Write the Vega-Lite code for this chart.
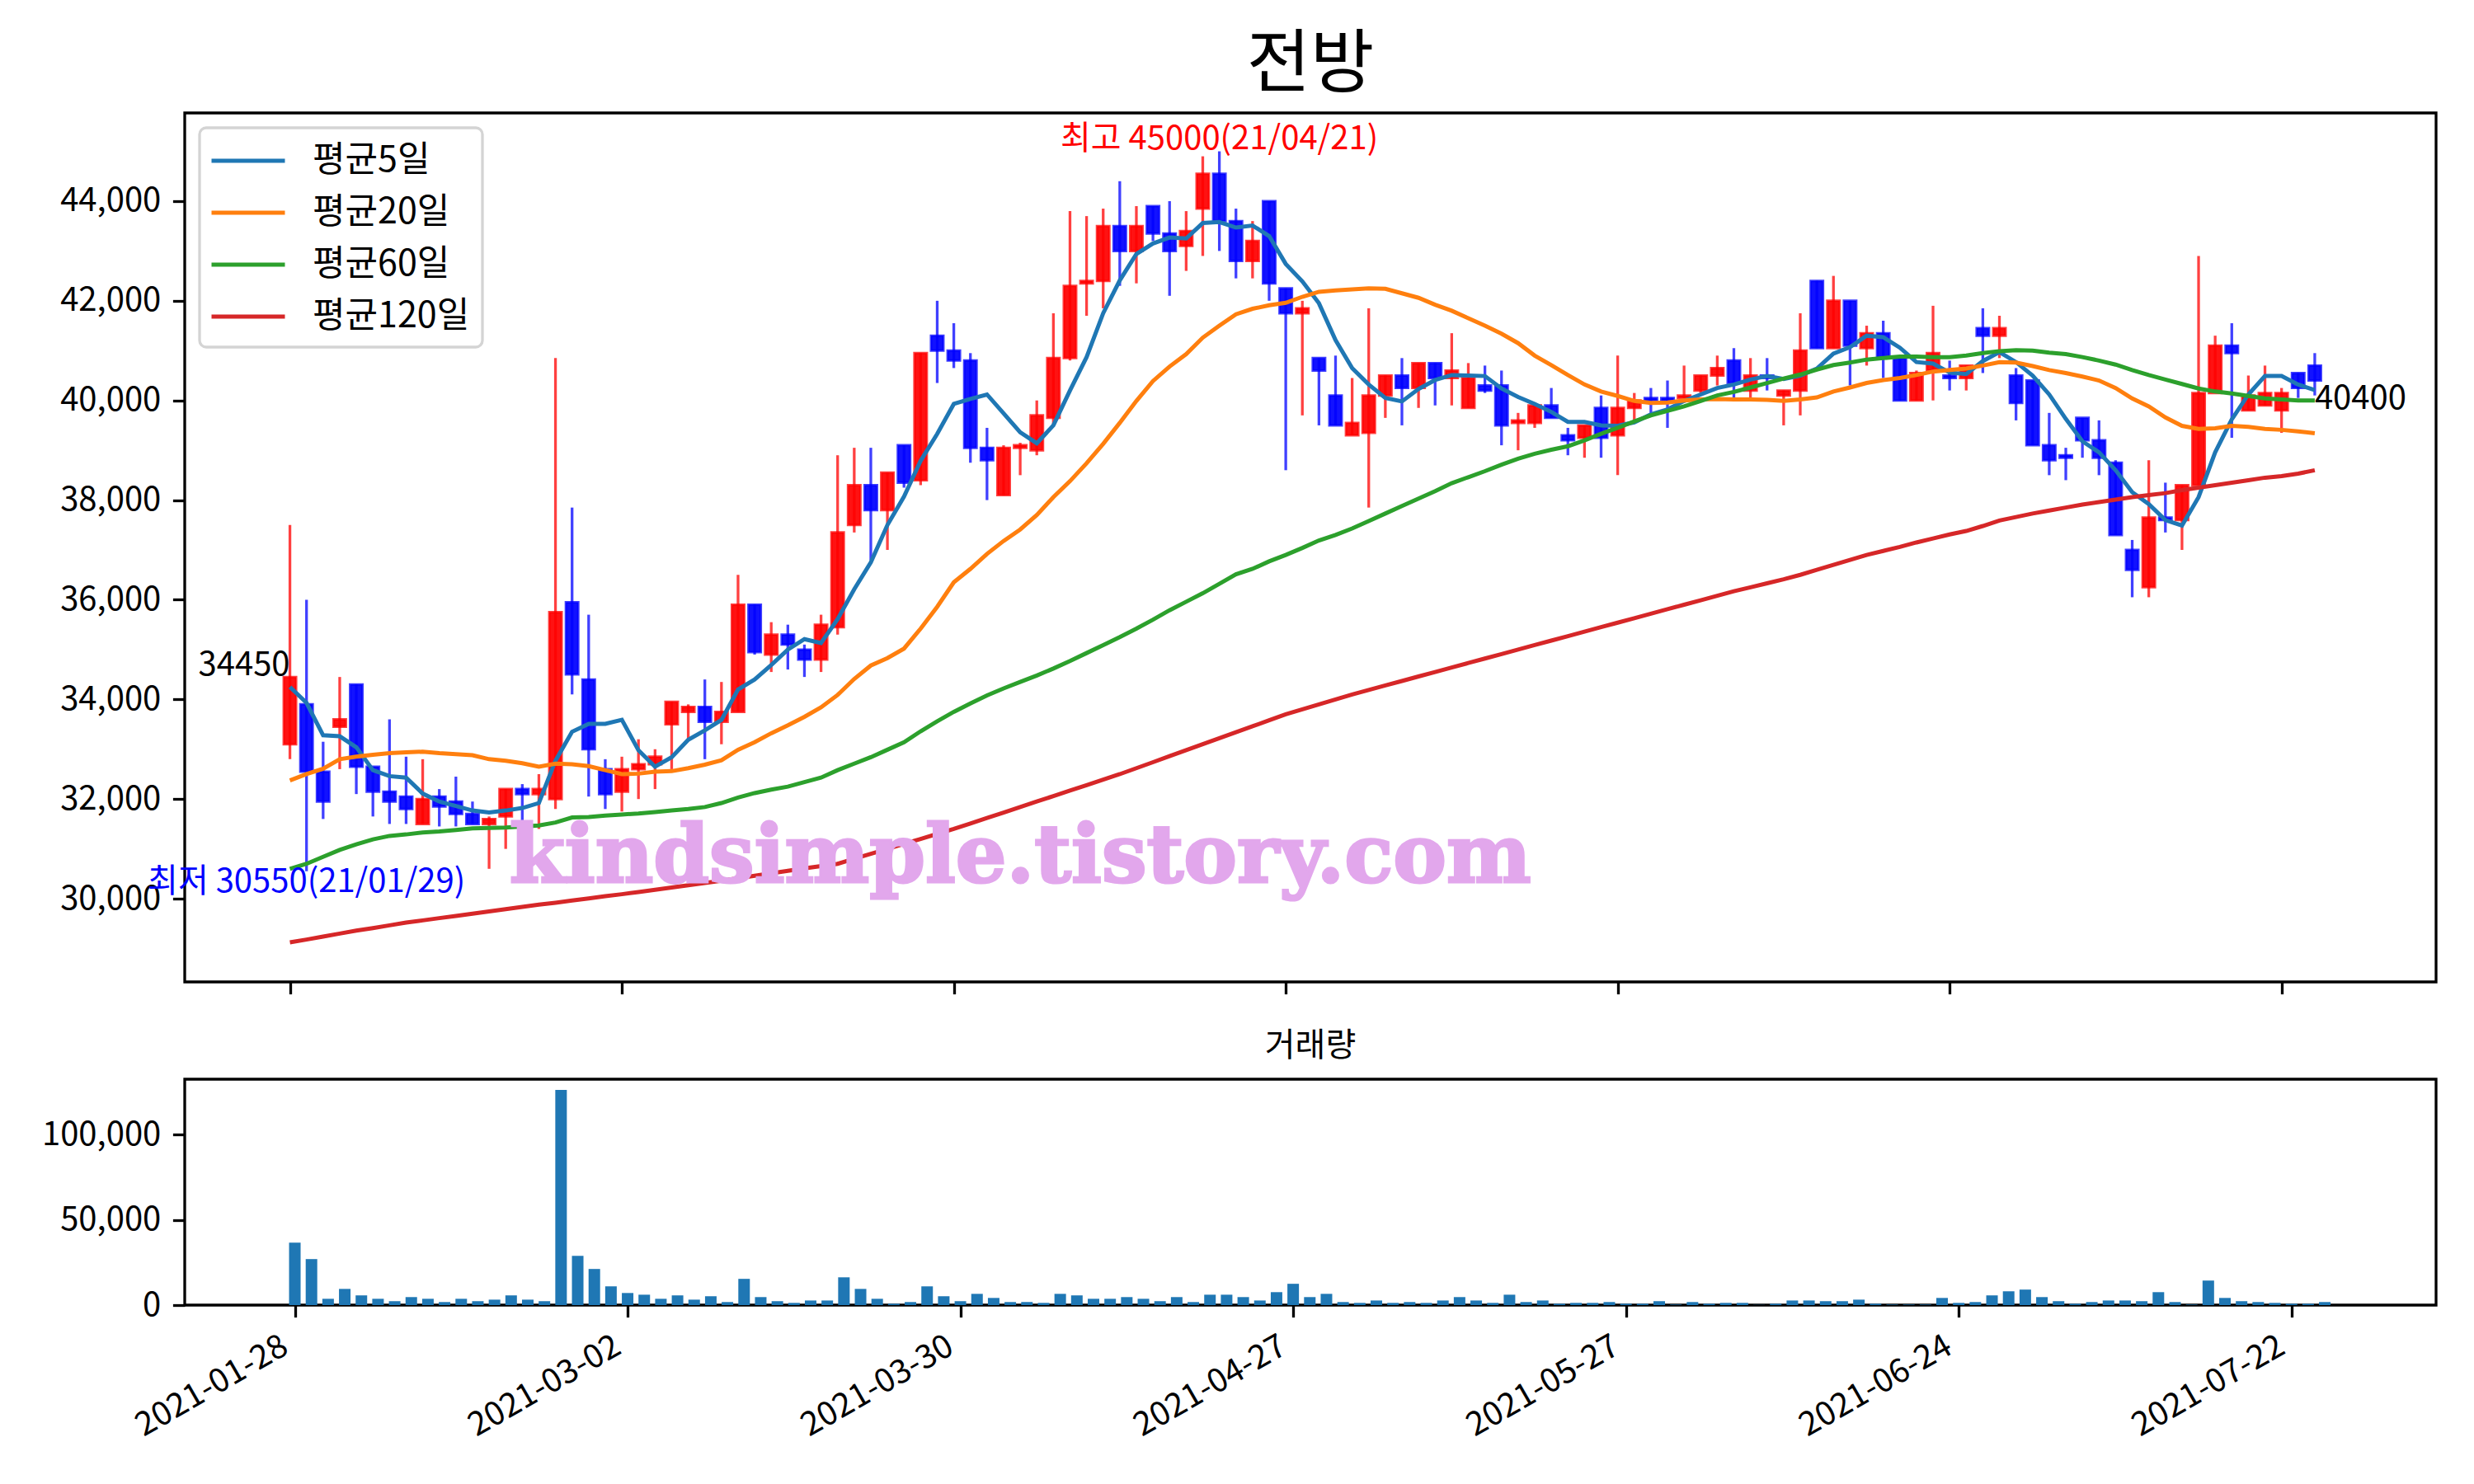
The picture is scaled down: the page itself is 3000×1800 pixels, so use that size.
{
  "$schema": "https://vega.github.io/schema/vega-lite/v6.json",
  "background": "white",
  "padding": {"left": 48, "top": 36, "right": 40, "bottom": 40},
  "config": {
    "font": "Noto Sans CJK KR",
    "view": {"stroke": "black", "strokeWidth": 3.3},
    "axis": {"labelFont": "Noto Sans CJK KR", "labelFontSize": 40, "labelColor": "black", "tickColor": "black", "tickWidth": 3.3, "tickSize": 14.6, "labelPadding": 14.6, "domain": false, "grid": false, "labelLimit": 0},
    "legend": {"strokeWidth": 3.3},
    "text": {"font": "Noto Sans CJK KR"}
  },
  "datasets": {
    "d": [
      {"i":0,"o":33100,"h":37500,"l":32800,"c":34450,"vol":36700,"평균5일":34250,"평균20일":32375,"평균60일":30600,"평균120일":29125},
      {"i":1,"o":33900,"h":36000,"l":30550,"c":32550,"vol":27000,"평균5일":33930,"평균20일":32500,"평균60일":30700,"평균120일":29180},
      {"i":2,"o":32550,"h":33150,"l":31600,"c":31950,"vol":3700,"평균5일":33280,"평균20일":32610,"평균60일":30840,"평균120일":29240},
      {"i":3,"o":33450,"h":34450,"l":32600,"c":33600,"vol":9500,"평균5일":33260,"평균20일":32800,"평균60일":30980,"평균120일":29300},
      {"i":4,"o":34300,"h":34300,"l":32100,"c":32650,"vol":5700,"평균5일":33040,"평균20일":32850,"평균60일":31090,"평균120일":29360},
      {"i":5,"o":32650,"h":32650,"l":31650,"c":32150,"vol":3700,"평균5일":32580,"평균20일":32890,"평균60일":31190,"평균120일":29410},
      {"i":6,"o":32150,"h":33600,"l":31500,"c":31950,"vol":2300,"평균5일":32460,"평균20일":32920,"평균60일":31260,"평균120일":29465},
      {"i":7,"o":32050,"h":32850,"l":31500,"c":31800,"vol":4700,"평균5일":32430,"평균20일":32940,"평균60일":31290,"평균120일":29520},
      {"i":8,"o":31500,"h":32800,"l":31500,"c":32000,"vol":3700,"평균5일":32110,"평균20일":32950,"평균60일":31330,"평균120일":29565},
      {"i":9,"o":32050,"h":32200,"l":31450,"c":31850,"vol":1800,"평균5일":31950,"평균20일":32920,"평균60일":31350,"평균120일":29610},
      {"i":10,"o":31950,"h":32450,"l":31450,"c":31700,"vol":3700,"평균5일":31860,"평균20일":32900,"평균60일":31380,"평균120일":29655},
      {"i":11,"o":31700,"h":31950,"l":31500,"c":31500,"vol":2300,"평균5일":31770,"평균20일":32880,"평균60일":31410,"평균120일":29700},
      {"i":12,"o":31500,"h":31650,"l":30600,"c":31600,"vol":3200,"평균5일":31730,"평균20일":32800,"평균60일":31420,"평균120일":29745},
      {"i":13,"o":31650,"h":32200,"l":31000,"c":32200,"vol":5700,"평균5일":31770,"평균20일":32770,"평균60일":31430,"평균120일":29790},
      {"i":14,"o":32200,"h":32300,"l":31500,"c":32100,"vol":3200,"평균5일":31820,"평균20일":32720,"평균60일":31450,"평균120일":29835},
      {"i":15,"o":32100,"h":32500,"l":31400,"c":32200,"vol":2300,"평균5일":31920,"평균20일":32650,"평균60일":31470,"평균120일":29880},
      {"i":16,"o":32000,"h":40850,"l":31800,"c":35750,"vol":126250,"평균5일":32770,"평균20일":32710,"평균60일":31530,"평균120일":29920},
      {"i":17,"o":35950,"h":37850,"l":34100,"c":34500,"vol":28900,"평균5일":33350,"평균20일":32700,"평균60일":31630,"평균120일":29965},
      {"i":18,"o":34400,"h":35700,"l":32050,"c":33000,"vol":21200,"평균5일":33510,"평균20일":32660,"평균60일":31640,"평균120일":30005},
      {"i":19,"o":32600,"h":32800,"l":31800,"c":32100,"vol":11000,"평균5일":33510,"평균20일":32580,"평균60일":31670,"평균120일":30050},
      {"i":20,"o":32150,"h":32850,"l":31750,"c":32600,"vol":7100,"평균5일":33590,"평균20일":32500,"평균60일":31690,"평균120일":30090},
      {"i":21,"o":32600,"h":33200,"l":32000,"c":32700,"vol":6100,"평균5일":32980,"평균20일":32510,"평균60일":31710,"평균120일":30135},
      {"i":22,"o":32700,"h":33000,"l":32200,"c":32850,"vol":3700,"평균5일":32650,"평균20일":32550,"평균60일":31740,"평균120일":30180},
      {"i":23,"o":33500,"h":33950,"l":32600,"c":33950,"vol":5700,"평균5일":32840,"평균20일":32560,"평균60일":31770,"평균120일":30225},
      {"i":24,"o":33750,"h":33900,"l":33200,"c":33850,"vol":3200,"평균5일":33190,"평균20일":32620,"평균60일":31800,"평균120일":30270},
      {"i":25,"o":33850,"h":34400,"l":32800,"c":33550,"vol":5200,"평균5일":33380,"평균20일":32690,"평균60일":31840,"평균120일":30315},
      {"i":26,"o":33550,"h":34350,"l":33100,"c":33750,"vol":1800,"평균5일":33590,"평균20일":32780,"평균60일":31920,"평균120일":30360},
      {"i":27,"o":33750,"h":36500,"l":33750,"c":35900,"vol":15400,"평균5일":34200,"평균20일":32990,"평균60일":32030,"평균120일":30410},
      {"i":28,"o":35900,"h":35900,"l":34900,"c":34950,"vol":4700,"평균5일":34400,"평균20일":33140,"평균60일":32120,"평균120일":30460},
      {"i":29,"o":34900,"h":35550,"l":34550,"c":35300,"vol":2300,"평균5일":34690,"평균20일":33320,"평균60일":32190,"평균120일":30510},
      {"i":30,"o":35300,"h":35500,"l":34600,"c":35100,"vol":1300,"평균5일":35000,"평균20일":33480,"평균60일":32250,"평균120일":30560},
      {"i":31,"o":35000,"h":35100,"l":34450,"c":34800,"vol":2700,"평균5일":35210,"평균20일":33650,"평균60일":32340,"평균120일":30610},
      {"i":32,"o":34800,"h":35700,"l":34550,"c":35500,"vol":2700,"평균5일":35130,"평균20일":33840,"평균60일":32430,"평균120일":30655},
      {"i":33,"o":35450,"h":38900,"l":35300,"c":37350,"vol":16300,"평균5일":35610,"평균20일":34090,"평균60일":32580,"평균120일":30700},
      {"i":34,"o":37500,"h":39050,"l":37350,"c":38300,"vol":9500,"평균5일":36210,"평균20일":34410,"평균60일":32710,"평균120일":30800},
      {"i":35,"o":38300,"h":39050,"l":36800,"c":37800,"vol":3700,"평균5일":36750,"평균20일":34680,"평균60일":32840,"평균120일":30900},
      {"i":36,"o":37800,"h":38550,"l":37000,"c":38550,"vol":800,"평균5일":37500,"평균20일":34830,"평균60일":32990,"평균120일":31000},
      {"i":37,"o":39100,"h":39100,"l":38250,"c":38350,"vol":1800,"평균5일":38070,"평균20일":35020,"평균60일":33140,"평균120일":31100},
      {"i":38,"o":38400,"h":40950,"l":38300,"c":40950,"vol":11000,"평균5일":38790,"평균20일":35420,"평균60일":33360,"평균120일":31200},
      {"i":39,"o":41300,"h":42000,"l":40350,"c":41000,"vol":5200,"평균5일":39330,"평균20일":35860,"평균60일":33560,"평균120일":31300},
      {"i":40,"o":41000,"h":41550,"l":40650,"c":40800,"vol":2300,"평균5일":39930,"평균20일":36350,"평균60일":33750,"평균120일":31400},
      {"i":41,"o":40800,"h":40950,"l":38750,"c":39050,"vol":6600,"평균5일":40030,"평균20일":36620,"평균60일":33920,"평균120일":31510},
      {"i":42,"o":39050,"h":39450,"l":38000,"c":38800,"vol":4200,"평균5일":40120,"평균20일":36920,"평균60일":34080,"평균120일":31620},
      {"i":43,"o":38100,"h":39100,"l":38100,"c":39050,"vol":1800,"평균5일":39740,"평균20일":37180,"평균60일":34220,"평균120일":31730},
      {"i":44,"o":39050,"h":39150,"l":38500,"c":39100,"vol":1800,"평균5일":39360,"평균20일":37410,"평균60일":34350,"평균120일":31840},
      {"i":45,"o":39000,"h":40000,"l":38900,"c":39700,"vol":1300,"평균5일":39140,"평균20일":37700,"평균60일":34480,"평균120일":31950},
      {"i":46,"o":39650,"h":41750,"l":39500,"c":40850,"vol":6600,"평균5일":39500,"평균20일":38060,"평균60일":34620,"평균120일":32060},
      {"i":47,"o":40850,"h":43800,"l":40800,"c":42300,"vol":5700,"평균5일":40200,"평균20일":38380,"평균60일":34770,"평균120일":32170},
      {"i":48,"o":42350,"h":43700,"l":41700,"c":42400,"vol":3700,"평균5일":40870,"평균20일":38740,"평균60일":34930,"평균120일":32280},
      {"i":49,"o":42400,"h":43850,"l":41850,"c":43500,"vol":3700,"평균5일":41750,"평균20일":39130,"평균60일":35090,"평균120일":32390},
      {"i":50,"o":43500,"h":44400,"l":42300,"c":43000,"vol":4700,"평균5일":42410,"평균20일":39550,"평균60일":35250,"평균120일":32500},
      {"i":51,"o":43000,"h":43900,"l":42350,"c":43500,"vol":3700,"평균5일":42940,"평균20일":39990,"평균60일":35420,"평균120일":32620},
      {"i":52,"o":43900,"h":43900,"l":43200,"c":43350,"vol":2300,"평균5일":43150,"평균20일":40390,"평균60일":35600,"평균120일":32740},
      {"i":53,"o":43350,"h":44000,"l":42100,"c":43000,"vol":4700,"평균5일":43270,"평균20일":40680,"평균60일":35790,"평균120일":32860},
      {"i":54,"o":43100,"h":43800,"l":42600,"c":43400,"vol":1800,"평균5일":43250,"평균20일":40930,"평균60일":35960,"평균120일":32980},
      {"i":55,"o":43850,"h":44900,"l":42900,"c":44550,"vol":6100,"평균5일":43560,"평균20일":41260,"평균60일":36130,"평균120일":33100},
      {"i":56,"o":44550,"h":45000,"l":43000,"c":43600,"vol":6100,"평균5일":43580,"평균20일":41500,"평균60일":36320,"평균120일":33220},
      {"i":57,"o":43600,"h":43850,"l":42450,"c":42800,"vol":4700,"평균5일":43470,"평균20일":41730,"평균60일":36510,"평균120일":33340},
      {"i":58,"o":42800,"h":43600,"l":42450,"c":43200,"vol":2700,"평균5일":43510,"평균20일":41840,"평균60일":36620,"평균120일":33460},
      {"i":59,"o":44000,"h":44000,"l":42000,"c":42350,"vol":7600,"평균5일":43300,"평균20일":41910,"평균60일":36770,"평균120일":33580},
      {"i":60,"o":42250,"h":42250,"l":38600,"c":41750,"vol":12500,"평균5일":42740,"평균20일":41960,"평균60일":36900,"평균120일":33700},
      {"i":61,"o":41750,"h":42000,"l":39700,"c":41850,"vol":4700,"평균5일":42390,"평균20일":42080,"평균60일":37040,"평균120일":33800},
      {"i":62,"o":40850,"h":40850,"l":39500,"c":40600,"vol":6600,"평균5일":41950,"평균20일":42180,"평균60일":37190,"평균120일":33900},
      {"i":63,"o":40100,"h":40900,"l":39500,"c":39500,"vol":1800,"평균5일":41210,"평균20일":42210,"평균60일":37300,"평균120일":34000},
      {"i":64,"o":39300,"h":40450,"l":39300,"c":39550,"vol":1300,"평균5일":40650,"평균20일":42230,"평균60일":37430,"평균120일":34100},
      {"i":65,"o":39350,"h":41850,"l":37850,"c":40100,"vol":2700,"평균5일":40320,"평균20일":42250,"평균60일":37580,"평균120일":34190},
      {"i":66,"o":40100,"h":40500,"l":39650,"c":40500,"vol":1300,"평균5일":40050,"평균20일":42240,"평균60일":37730,"평균120일":34280},
      {"i":67,"o":40500,"h":40850,"l":39500,"c":40250,"vol":1800,"평균5일":39980,"평균20일":42150,"평균60일":37880,"평균120일":34370},
      {"i":68,"o":40250,"h":40750,"l":39850,"c":40750,"vol":1300,"평균5일":40230,"평균20일":42060,"평균60일":38030,"평균120일":34460},
      {"i":69,"o":40750,"h":40750,"l":39900,"c":40450,"vol":2700,"평균5일":40410,"평균20일":41920,"평균60일":38180,"평균120일":34550},
      {"i":70,"o":40450,"h":41350,"l":39900,"c":40600,"vol":4700,"평균5일":40510,"평균20일":41800,"평균60일":38340,"평균120일":34640},
      {"i":71,"o":39850,"h":40750,"l":39850,"c":40450,"vol":2700,"평균5일":40500,"평균20일":41650,"평균60일":38460,"평균120일":34730},
      {"i":72,"o":40300,"h":40700,"l":40150,"c":40200,"vol":1300,"평균5일":40490,"평균20일":41500,"평균60일":38580,"평균120일":34820},
      {"i":73,"o":40300,"h":40600,"l":39100,"c":39500,"vol":6100,"평균5일":40240,"평균20일":41340,"평균60일":38710,"평균120일":34910},
      {"i":74,"o":39550,"h":39750,"l":39000,"c":39600,"vol":1800,"평균5일":40070,"평균20일":41150,"평균60일":38830,"평균120일":35000},
      {"i":75,"o":39550,"h":39950,"l":39450,"c":39900,"vol":2700,"평균5일":39930,"평균20일":40900,"평균60일":38930,"평균120일":35090},
      {"i":76,"o":39900,"h":40250,"l":39650,"c":39650,"vol":800,"평균5일":39770,"평균20일":40710,"평균60일":39010,"평균120일":35180},
      {"i":77,"o":39300,"h":39450,"l":38900,"c":39200,"vol":1300,"평균5일":39570,"평균20일":40510,"평균60일":39080,"평균120일":35270},
      {"i":78,"o":39250,"h":39500,"l":38850,"c":39500,"vol":1300,"평균5일":39570,"평균20일":40320,"평균60일":39200,"평균120일":35360},
      {"i":79,"o":39850,"h":40100,"l":38850,"c":39250,"vol":1800,"평균5일":39500,"평균20일":40180,"평균60일":39330,"평균120일":35450},
      {"i":80,"o":39300,"h":40900,"l":38500,"c":39850,"vol":800,"평균5일":39490,"평균20일":40090,"평균60일":39450,"평균120일":35540},
      {"i":81,"o":39850,"h":40150,"l":39600,"c":40000,"vol":800,"평균5일":39560,"평균20일":39990,"평균60일":39580,"평균120일":35630},
      {"i":82,"o":40050,"h":40250,"l":39750,"c":40000,"vol":2300,"평균5일":39720,"평균20일":39950,"평균60일":39700,"평균120일":35720},
      {"i":83,"o":40050,"h":40400,"l":39450,"c":40000,"vol":300,"평균5일":39820,"평균20일":39960,"평균60일":39790,"평균120일":35810},
      {"i":84,"o":40050,"h":40700,"l":40050,"c":40100,"vol":1800,"평균5일":39990,"평균20일":40000,"평균60일":39880,"평균120일":35900},
      {"i":85,"o":40200,"h":40500,"l":40150,"c":40500,"vol":800,"평균5일":40120,"평균20일":40020,"평균60일":39990,"평균120일":35990},
      {"i":86,"o":40500,"h":40900,"l":40300,"c":40650,"vol":1300,"평균5일":40250,"평균20일":40030,"평균60일":40100,"평균120일":36080},
      {"i":87,"o":40800,"h":41050,"l":40050,"c":40350,"vol":1300,"평균5일":40320,"평균20일":40020,"평균60일":40170,"평균120일":36170},
      {"i":88,"o":40200,"h":40850,"l":40050,"c":40500,"vol":100,"평균5일":40420,"평균20일":40020,"평균60일":40260,"평균120일":36250},
      {"i":89,"o":40500,"h":40850,"l":40200,"c":40450,"vol":800,"평균5일":40490,"평균20일":40010,"평균60일":40350,"평균120일":36330},
      {"i":90,"o":40100,"h":40200,"l":39500,"c":40200,"vol":2700,"평균5일":40430,"평균20일":39990,"평균60일":40440,"평균120일":36410},
      {"i":91,"o":40200,"h":41750,"l":39700,"c":41000,"vol":2700,"평균5일":40500,"평균20일":40020,"평균60일":40520,"평균120일":36500},
      {"i":92,"o":42400,"h":42400,"l":41050,"c":41050,"vol":2300,"평균5일":40640,"평균20일":40060,"평균60일":40620,"평균120일":36600},
      {"i":93,"o":41050,"h":42500,"l":41050,"c":42000,"vol":2300,"평균5일":40940,"평균20일":40180,"평균60일":40710,"평균120일":36700},
      {"i":94,"o":42000,"h":42000,"l":40300,"c":41100,"vol":3200,"평균5일":41070,"평균20일":40260,"평균60일":40760,"평균120일":36800},
      {"i":95,"o":41050,"h":41500,"l":40700,"c":41350,"vol":800,"평균5일":41300,"평균20일":40350,"평균60일":40820,"평균120일":36900},
      {"i":96,"o":41350,"h":41600,"l":40450,"c":40850,"vol":300,"평균5일":41270,"평균20일":40410,"평균60일":40850,"평균120일":36980},
      {"i":97,"o":40850,"h":40850,"l":40000,"c":40000,"vol":300,"평균5일":41060,"평균20일":40450,"평균60일":40880,"평균120일":37060},
      {"i":98,"o":40000,"h":40600,"l":40000,"c":40550,"vol":300,"평균5일":40770,"평균20일":40510,"평균60일":40880,"평균120일":37150},
      {"i":99,"o":40600,"h":41900,"l":40000,"c":40950,"vol":4200,"평균5일":40740,"평균20일":40580,"평균60일":40870,"평균120일":37230},
      {"i":100,"o":40500,"h":40800,"l":40200,"c":40450,"vol":1300,"평균5일":40560,"평균20일":40610,"평균60일":40870,"평균120일":37310},
      {"i":101,"o":40450,"h":40700,"l":40200,"c":40700,"vol":1800,"평균5일":40530,"평균20일":40640,"평균60일":40900,"평균120일":37380},
      {"i":102,"o":41450,"h":41850,"l":40550,"c":41300,"vol":5700,"평균5일":40790,"평균20일":40700,"평균60일":40950,"평균120일":37480},
      {"i":103,"o":41300,"h":41700,"l":40850,"c":41450,"vol":8100,"평균5일":40970,"평균20일":40770,"평균60일":40990,"평균120일":37590},
      {"i":104,"o":40500,"h":40650,"l":39600,"c":39950,"vol":9100,"평균5일":40770,"평균20일":40760,"평균60일":41010,"평균120일":37660},
      {"i":105,"o":40400,"h":40400,"l":39100,"c":39100,"vol":4700,"평균5일":40500,"평균20일":40690,"평균60일":41000,"평균120일":37730},
      {"i":106,"o":39100,"h":39750,"l":38500,"c":38800,"vol":2300,"평균5일":40120,"평균20일":40610,"평균60일":40960,"평균120일":37790},
      {"i":107,"o":38900,"h":39050,"l":38400,"c":38850,"vol":800,"평균5일":39630,"평균20일":40550,"평균60일":40930,"평균120일":37850},
      {"i":108,"o":39650,"h":39650,"l":38850,"c":39200,"vol":1800,"평균5일":39180,"평균20일":40480,"평균60일":40870,"평균120일":37910},
      {"i":109,"o":39200,"h":39600,"l":38500,"c":38850,"vol":2700,"평균5일":38960,"평균20일":40400,"평균60일":40800,"평균120일":37960},
      {"i":110,"o":38750,"h":38800,"l":37300,"c":37300,"vol":2700,"평균5일":38600,"평균20일":40250,"평균60일":40720,"평균120일":38010},
      {"i":111,"o":37000,"h":37200,"l":36050,"c":36600,"vol":2300,"평균5일":38160,"평균20일":40040,"평균60일":40610,"평균120일":38060},
      {"i":112,"o":36250,"h":38800,"l":36050,"c":37650,"vol":7600,"평균5일":37920,"평균20일":39880,"평균60일":40510,"평균120일":38100},
      {"i":113,"o":37650,"h":38350,"l":37350,"c":37600,"vol":1800,"평균5일":37600,"평균20일":39660,"평균60일":40420,"평균120일":38140},
      {"i":114,"o":37600,"h":38300,"l":37000,"c":38300,"vol":300,"평균5일":37490,"평균20일":39490,"평균60일":40330,"평균120일":38200},
      {"i":115,"o":38300,"h":42900,"l":38300,"c":40150,"vol":14400,"평균5일":38060,"평균20일":39430,"평균60일":40240,"평균120일":38250},
      {"i":116,"o":40150,"h":41300,"l":40150,"c":41100,"vol":4200,"평균5일":38960,"평균20일":39440,"평균60일":40180,"평균120일":38300},
      {"i":117,"o":41100,"h":41550,"l":39250,"c":40950,"vol":2300,"평균5일":39620,"평균20일":39490,"평균60일":40140,"평균120일":38350},
      {"i":118,"o":39800,"h":40500,"l":39800,"c":40100,"vol":1800,"평균5일":40120,"평균20일":39470,"평균60일":40090,"평균120일":38400},
      {"i":119,"o":39900,"h":40700,"l":39900,"c":40150,"vol":1300,"평균5일":40490,"평균20일":39430,"평균60일":40040,"평균120일":38450},
      {"i":120,"o":39800,"h":40250,"l":39350,"c":40150,"vol":800,"평균5일":40490,"평균20일":39410,"평균60일":40020,"평균120일":38480},
      {"i":121,"o":40550,"h":40550,"l":40050,"c":40250,"vol":800,"평균5일":40320,"평균20일":39380,"평균60일":40000,"평균120일":38530},
      {"i":122,"o":40700,"h":40950,"l":40100,"c":40400,"vol":1800,"평균5일":40210,"평균20일":39340,"평균60일":40000,"평균120일":38600}
    ]
  },
  "spacing": 118,
  "bounds": "flush",
  "resolve": {"scale": {"x": "independent", "y": "independent"}},
  "vconcat": [
    {
      "width": 2730,
      "height": 1054,
      "title": {"text": "전방", "fontSize": 84, "fontWeight": "normal", "font": "Noto Sans CJK KR", "color": "black", "anchor": "middle", "frame": "group", "offset": 14},
      "data": {"name": "d"},
      "encoding": {
        "x": {"field": "i", "type": "quantitative", "scale": {"domain": [-6.09, 129.06], "nice": false, "zero": false}, "axis": {"values": [0, 20, 40, 60, 80, 100, 120], "labels": false, "title": null}}
      },
      "layer": [
        {
          "mark": {"type": "rule", "strokeWidth": 3.3, "opacity": 0.75},
          "encoding": {
            "y": {"field": "l", "type": "quantitative", "scale": {"domain": [28330, 45770], "nice": false, "zero": false}, "axis": {"values": [30000, 32000, 34000, 36000, 38000, 40000, 42000, 44000], "labelExpr": "format(datum.value, ',')", "title": null}},
            "y2": {"field": "h"},
            "color": {"condition": {"test": "datum.c >= datum.o", "value": "#ff0000"}, "value": "#0000ff"}
          }
        },
        {
          "mark": {"type": "bar", "size": 15, "strokeWidth": 3, "fillOpacity": 0.93, "strokeOpacity": 0.75},
          "encoding": {
            "y": {"field": "o", "type": "quantitative", "scale": {"domain": [28330, 45770], "nice": false, "zero": false}, "axis": {"values": [30000, 32000, 34000, 36000, 38000, 40000, 42000, 44000], "labelExpr": "format(datum.value, ',')", "title": null}},
            "y2": {"field": "c"},
            "fill": {"condition": {"test": "datum.c >= datum.o", "value": "#ff0000"}, "value": "#0000ff"},
            "stroke": {"condition": {"test": "datum.c >= datum.o", "value": "#ff0000"}, "value": "#0000ff"}
          }
        },
        {
          "transform": [{"fold": ["평균5일", "평균20일", "평균60일", "평균120일"], "as": ["ma", "v"]}],
          "mark": {"type": "line", "strokeWidth": 5},
          "encoding": {
            "y": {"field": "v", "type": "quantitative", "scale": {"domain": [28330, 45770], "nice": false, "zero": false}, "axis": {"values": [30000, 32000, 34000, 36000, 38000, 40000, 42000, 44000], "labelExpr": "format(datum.value, ',')", "title": null}},
            "color": {
              "field": "ma", "type": "nominal",
              "scale": {"domain": ["평균5일", "평균20일", "평균60일", "평균120일"], "range": ["#1f77b4", "#ff7f0e", "#2ca02c", "#d62728"]},
              "legend": {"title": null, "orient": "none", "legendX": 18, "legendY": 18, "symbolType": "M-2,0H2", "symbolSize": 1980, "symbolStrokeWidth": 5, "symbolOffset": 19, "labelFontSize": 43, "labelFont": "Noto Sans CJK KR", "labelColor": "black", "labelOffset": 53, "rowPadding": 16, "padding": 15, "strokeColor": "#d4d4d4", "fillColor": "white", "cornerRadius": 8, "labelLimit": 0}
            }
          }
        },
        {
          "data": {"values": [{"i": 56, "v": 45000, "label": "최고 45000(21/04/21)"}]},
          "mark": {"type": "text", "color": "#ff0000", "fontSize": 40, "align": "center", "baseline": "alphabetic", "dy": -3},
          "encoding": {"y": {"field": "v", "type": "quantitative", "scale": {"domain": [28330, 45770], "nice": false, "zero": false}, "axis": {"values": [30000, 32000, 34000, 36000, 38000, 40000, 42000, 44000], "labelExpr": "format(datum.value, ',')", "title": null}}, "text": {"field": "label"}}
        },
        {
          "data": {"values": [{"i": 1, "v": 30550, "label": "최저 30550(21/01/29)"}]},
          "mark": {"type": "text", "color": "#0000ff", "fontSize": 40, "align": "center", "baseline": "alphabetic", "dy": 25},
          "encoding": {"y": {"field": "v", "type": "quantitative", "scale": {"domain": [28330, 45770], "nice": false, "zero": false}, "axis": {"values": [30000, 32000, 34000, 36000, 38000, 40000, 42000, 44000], "labelExpr": "format(datum.value, ',')", "title": null}}, "text": {"field": "label"}}
        },
        {
          "data": {"values": [{"i": 0, "v": 34450, "label": "34450"}]},
          "mark": {"type": "text", "color": "black", "fontSize": 40, "align": "right", "baseline": "alphabetic", "dy": -2},
          "encoding": {"y": {"field": "v", "type": "quantitative", "scale": {"domain": [28330, 45770], "nice": false, "zero": false}, "axis": {"values": [30000, 32000, 34000, 36000, 38000, 40000, 42000, 44000], "labelExpr": "format(datum.value, ',')", "title": null}}, "text": {"field": "label"}}
        },
        {
          "data": {"values": [{"i": 122, "v": 40400, "label": "40400"}]},
          "mark": {"type": "text", "color": "black", "fontSize": 40, "align": "left", "baseline": "alphabetic", "dy": 34},
          "encoding": {"y": {"field": "v", "type": "quantitative", "scale": {"domain": [28330, 45770], "nice": false, "zero": false}, "axis": {"values": [30000, 32000, 34000, 36000, 38000, 40000, 42000, 44000], "labelExpr": "format(datum.value, ',')", "title": null}}, "text": {"field": "label"}}
        },
        {
          "data": {"values": [{"i": 44, "v": 30330, "label": "kindsimple.tistory.com"}]},
          "mark": {"type": "text", "color": "#e2a7ec", "stroke": "#e2a7ec", "strokeWidth": 3, "font": "DejaVu Serif", "fontWeight": "bold", "fontSize": 97, "align": "center", "baseline": "alphabetic"},
          "encoding": {"y": {"field": "v", "type": "quantitative", "scale": {"domain": [28330, 45770], "nice": false, "zero": false}, "axis": {"values": [30000, 32000, 34000, 36000, 38000, 40000, 42000, 44000], "labelExpr": "format(datum.value, ',')", "title": null}}, "text": {"field": "label"}}
        }
      ]
    },
    {
      "width": 2730,
      "height": 274,
      "title": {"text": "거래량", "fontSize": 40, "fontWeight": "normal", "font": "Noto Sans CJK KR", "color": "black", "anchor": "middle", "frame": "group", "offset": 20},
      "data": {"name": "d"},
      "mark": {"type": "bar", "size": 14, "color": "#1f77b4"},
      "encoding": {
        "x": {"field": "i", "type": "quantitative", "scale": {"domain": [-6.37, 128.44], "nice": false, "zero": false}, "axis": {"values": [0, 20, 40, 60, 80, 100, 120], "title": null, "labelAngle": -30, "labelAlign": "right", "labelBaseline": "top", "labelOffset": -22, "labelExpr": "datum.value == 0 ? '2021-01-28' : datum.value == 20 ? '2021-03-02' : datum.value == 40 ? '2021-03-30' : datum.value == 60 ? '2021-04-27' : datum.value == 80 ? '2021-05-27' : datum.value == 100 ? '2021-06-24' : '2021-07-22'"}},
        "y": {"field": "vol", "type": "quantitative", "scale": {"domain": [0, 132560], "nice": false}, "axis": {"values": [0, 50000, 100000], "labelExpr": "format(datum.value, ',')", "title": null}}
      }
    }
  ]
}
